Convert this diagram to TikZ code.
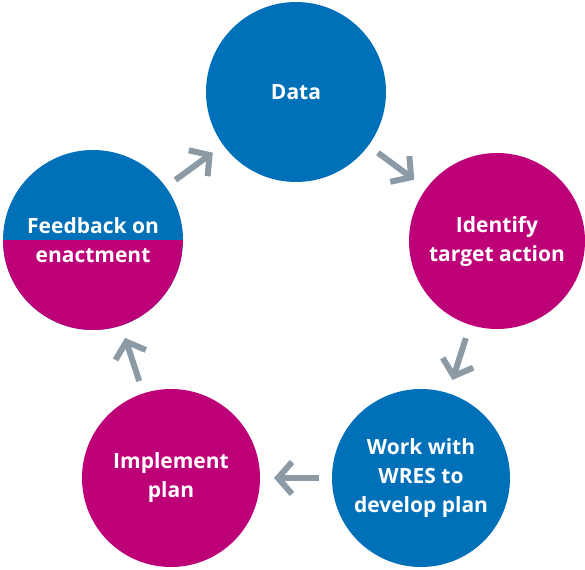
\documentclass[tikz,border=0pt]{standalone}
\usepackage{fontspec}
\setmainfont{Open Sans}
\usetikzlibrary{arrows.meta}
\definecolor{cycleblue}{RGB}{0,112,185}
\definecolor{cyclepink}{RGB}{190,0,120}
\definecolor{cyclegrey}{RGB}{139,154,164}

\begin{document}
\begin{tikzpicture}[x=1pt, y=-1pt,
	stage/.style={circle, minimum size=178pt, inner sep=0pt, text=white,
		align=center, font=\fontsize{21}{29}\selectfont\bfseries},
	flow/.style={cyclegrey, line width=6pt, line join=miter,
		-{Straight Barb[length=14pt, width=32pt]},
		shorten <=102pt, shorten >=103pt}]
	% Picture frame
	\useasboundingbox (0,0) rectangle (585,569);
	
	% Stages of the cycle
	\node[stage, fill=cycleblue, minimum size=180pt] (data) at (296,92) {Data};
	\node[stage, fill=cyclepink, minimum size=176pt] (identify) at (497,241) {Identify\\target action};
	\node[stage, fill=cycleblue] (work) at (421,478) {Work with\\WRES to\\develop plan};
	\node[stage, fill=cyclepink] (implement) at (171,478) {Implement\\plan};
	\node[stage, fill=cycleblue, minimum size=180pt,
		path picture={\fill[cyclepink] (path picture bounding box.west) rectangle (path picture bounding box.south east);}]
		(feedback) at (93,240) {Feedback on\\enactment};
	
	% Arrows between stages
	\draw[flow] (feedback.center) -- (data.center);
	\draw[flow] (data.center) -- (identify.center);
	\draw[flow] (identify.center) -- (work.center);
	\draw[flow] (work.center) -- (implement.center);
	\draw[flow] (implement.center) -- (feedback.center);
	
\end{tikzpicture}
\end{document}
